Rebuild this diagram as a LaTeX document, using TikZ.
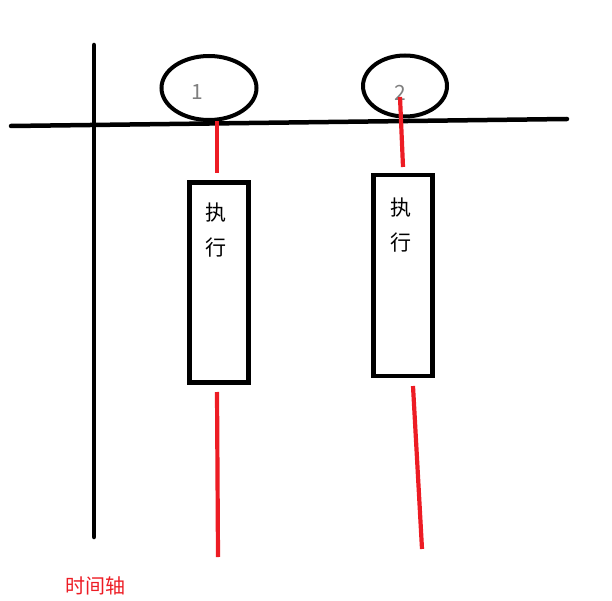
\documentclass[tikz,border=0pt]{standalone}
\usepackage{fontspec}
\newfontfamily\cjk{Noto Sans CJK SC}
\usetikzlibrary{shapes.geometric}
\definecolor{axisred}{HTML}{ED1C24}
\definecolor{numgray}{HTML}{7F7F7F}
\tikzset{
  axisline/.style={line width=4.5pt, line cap=round},
  redline/.style={line width=4.2pt, draw=axisred},
  event/.style={ellipse, draw, line width=4pt, inner sep=0pt},
  runbox/.style={draw, line width=4.5pt, inner sep=0pt, minimum width=59pt},
  runtext/.style={font=\cjk\fontsize{21}{35}\selectfont, align=center},
  eventnum/.style={font=\cjk\fontsize{21}{21}\selectfont, text=numgray}
}
\begin{document}
\begin{tikzpicture}[x=1pt,y=-1pt]
\useasboundingbox (0,0) rectangle (612,601);

% --- Time axes ---
\coordinate (vtop) at (94,45);
\coordinate (vbot) at (94,537);
\coordinate (hleft) at (11,126);
\coordinate (hright) at (567,119);
\draw[axisline] (vtop) -- (vbot);
\draw[axisline] (hleft) -- (hright);
\node[font=\cjk\fontsize{20}{20}\selectfont, text=axisred] (axislabel) at (95,586) {时间轴};

% --- Events on the axis ---
\node[event, minimum width=95pt, minimum height=64pt] (ev1) at (209,88) {};
\node[event, minimum width=84pt, minimum height=61pt] (ev2) at (405,86) {};
\node[eventnum] (num1) at (197,92) {1};
\node[eventnum] (num2) at (400,93) {2};

% --- Execution boxes ---
\node[runbox, minimum height=200pt] (run1) at (219,282.5) {};
\node[runbox, minimum height=201pt] (run2) at (403,275.5) {};
\node[runtext] (txt1) at (216,230.5) {执\\行};
\node[runtext] (txt2) at (400.5,225) {执\\行};

% --- Red timelines ---
\coordinate (a1) at (217,121);
\coordinate (b1) at (217,173);
\coordinate (c1) at (217,392);
\coordinate (d1) at (218,557);
\coordinate (a2) at (400,97);
\coordinate (b2) at (403,167);
\coordinate (c2) at (413,386);
\coordinate (d2) at (422,549);
\draw[redline] (a1) -- (b1);
\draw[redline] (c1) -- (d1);
\draw[redline] (a2) -- (b2);
\draw[redline] (c2) -- (d2);

\end{tikzpicture}
\end{document}
